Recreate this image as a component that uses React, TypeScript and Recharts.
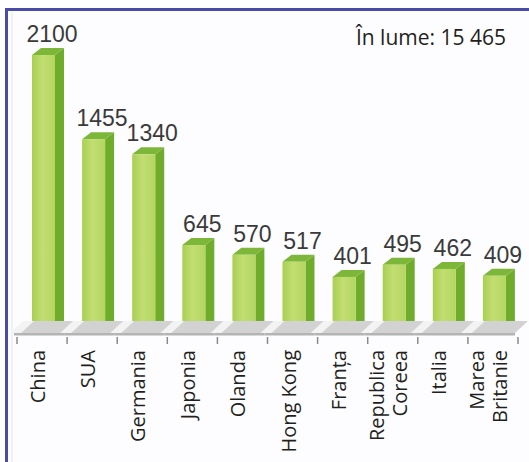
import { BarChart, Bar, XAxis, YAxis, LabelList } from 'recharts';

const countries = [
  'China',
  'SUA',
  'Germania',
  'Japonia',
  'Olanda',
  'Hong Kong',
  'Franța',
  'Republica\nCoreea',
  'Italia',
  'Marea\nBritanie',
];
const values = [2100, 1455, 1340, 645, 570, 517, 401, 495, 462, 409];
const worldLabel = 'În lume: 15 465';

const data = countries.map((name, i) => ({ name, value: values[i] }));

const W = 529;
const H = 462;
const MARGIN = { top: 48, right: 5, bottom: 0, left: 23 };
const BAND = (W - MARGIN.left - MARGIN.right) / countries.length;

const DEPTH_X = 9;
const DEPTH_Y = 7;

function Bar3D(props: any) {
  const { x, y, width, height, background } = props;
  const bottom = background ? background.y + background.height : y + height;
  const fw = width - DEPTH_X;
  return (
    <g>
      <polygon
        points={`${x + fw},${y + DEPTH_Y} ${x + width},${y} ${x + width},${bottom - DEPTH_Y} ${x + fw},${bottom}`}
        fill="#6fac2c"
      />
      <polygon
        points={`${x},${y + DEPTH_Y} ${x + DEPTH_X},${y} ${x + width},${y} ${x + fw},${y + DEPTH_Y}`}
        fill="#7db73a"
      />
      <rect x={x} y={y + DEPTH_Y} width={fw} height={bottom - y - DEPTH_Y} fill="url(#frontGrad)" />
    </g>
  );
}

function FloorTick(props: any) {
  const { x, y, payload } = props;
  const half = BAND / 2;
  const front = y;
  const back = y - 12;
  const skew = 13;
  const lx = x - half - 9;
  const rx = x + half - 9;
  const lines = String(payload.value).split('\n');
  const isLast = payload.index === countries.length - 1;
  return (
    <g>
      <polygon
        points={`${lx},${front} ${lx + skew},${back} ${rx + skew},${back} ${rx},${front}`}
        fill="#d2d2d2"
      />
      <polygon
        points={`${lx - 4},${front} ${lx - 4 + skew},${back} ${lx + 7 + skew},${back} ${lx + 7},${front}`}
        fill="#f3f3f3"
      />
      <rect x={lx} y={front} width={rx - lx} height={2.5} fill="#b4b4b4" />
      <line x1={lx + 3} x2={lx + 3} y1={front + 4} y2={front + 11} stroke="#8a8a8a" strokeWidth={1.5} />
      {isLast && (
        <line x1={rx + 3} x2={rx + 3} y1={front + 4} y2={front + 11} stroke="#8a8a8a" strokeWidth={1.5} />
      )}
      {lines.map((line, i) => {
        const tx = lines.length === 1 ? x - 3 : x - 15 + i * 23;
        const ty = front + 17;
        return (
          <text
            key={line}
            x={tx}
            y={ty}
            transform={`rotate(-90 ${tx} ${ty})`}
            textAnchor="end"
            fontFamily="'Open Sans', sans-serif"
            fontSize={20}
            fill="#231f20"
          >
            {line}
          </text>
        );
      })}
    </g>
  );
}

function ValueLabel(props: any) {
  const { x, y, width, value } = props;
  return (
    <text
      x={x + width / 2 + 4}
      y={y - 6}
      textAnchor="middle"
      fontFamily="'Liberation Sans', Arial, sans-serif"
      fontSize={23}
      fill="#3a3a3a"
    >
      {value}
    </text>
  );
}

export default function App() {
  return (
    <div style={{ position: 'absolute', left: 0, top: 0, width: W, height: H, background: '#fff' }}>
      <svg width={W} height={H} style={{ position: 'absolute', left: 0, top: 0 }}>
        <rect x={6} y={10} width={W - 6} height={H - 10} fill="#fdfdff" />
        <line x1={5} x2={W} y1={9.5} y2={9.5} stroke="#4a4ba6" strokeWidth={3} />
        <line x1={6.5} x2={6.5} y1={8} y2={H} stroke="#4a4ba6" strokeWidth={3} />
        <line x1={12} x2={12} y1={12} y2={H} stroke="#eef0fa" strokeWidth={2} />
        <text
          x={506}
          y={45}
          textAnchor="end"
          fontFamily="'Open Sans', sans-serif"
          fontSize={21}
          fill="#231f20"
        >
          {worldLabel}
        </text>
      </svg>
      <div style={{ position: 'absolute', left: 0, top: 0 }}>
        <BarChart width={W} height={H} data={data} margin={MARGIN}>
          <defs>
            <linearGradient id="frontGrad" x1="0" y1="0" x2="1" y2="0">
              <stop offset="0%" stopColor="#a8cf52" />
              <stop offset="45%" stopColor="#c2de72" />
              <stop offset="100%" stopColor="#b3d660" />
            </linearGradient>
          </defs>
          <XAxis
            dataKey="name"
            height={129}
            axisLine={false}
            tickLine={false}
            tickSize={0}
            tickMargin={0}
            interval={0}
            tick={<FloorTick />}
          />
          <YAxis hide domain={[-82, 2100]} allowDataOverflow />
          <Bar dataKey="value" barSize={32} shape={<Bar3D />} isAnimationActive={false}>
            <LabelList dataKey="value" content={<ValueLabel />} />
          </Bar>
        </BarChart>
      </div>
    </div>
  );
}
